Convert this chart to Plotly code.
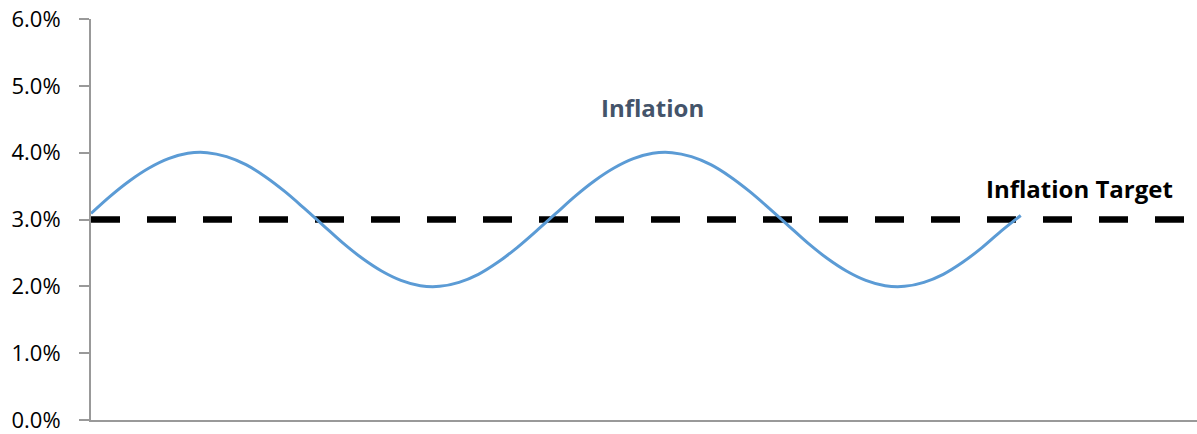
import plotly.graph_objects as go

# Inflation path (months), in percent
months = list(range(0, 49))
inflation = [3.09, 3.35, 3.58, 3.77, 3.91, 3.99, 4.00, 3.94, 3.82, 3.64, 3.42, 3.17,
             2.91, 2.65, 2.42, 2.23, 2.09, 2.01, 2.00, 2.06, 2.18, 2.36, 2.58, 2.83,
             3.09, 3.35, 3.58, 3.77, 3.91, 3.99, 4.00, 3.94, 3.82, 3.64, 3.42, 3.17,
             2.91, 2.65, 2.42, 2.23, 2.09, 2.01, 2.00, 2.06, 2.18, 2.36, 2.58, 2.83,
             3.06]

target_x = [0, 57.1]
target = [3.0, 3.0]

y_ticks = [0, 1, 2, 3, 4, 5, 6]
y_ticklabels = ["0.0%", "1.0%", "2.0%", "3.0%", "4.0%", "5.0%", "6.0%"]

fig = go.Figure()
fig.add_trace(go.Scatter(
    x=target_x, y=target, mode="lines",
    line=dict(color="#000000", width=6.5, dash="29px,27px"),
    hoverinfo="skip", showlegend=False,
))
fig.add_trace(go.Scatter(
    x=months, y=inflation, mode="lines",
    line=dict(color="#5B9BD5", width=3, shape="spline"),
    showlegend=False,
))

fig.add_annotation(x=29.0, y=4.68, xref="x", yref="y", text="<b>Inflation</b>",
                   showarrow=False, font=dict(family="Open Sans", size=24, color="#44546A"))
fig.add_annotation(x=51.05, y=3.47, xref="x", yref="y", text="<b>Inflation Target</b>",
                   showarrow=False, font=dict(family="Open Sans", size=24, color="#000000"))

fig.update_layout(
    width=1197, height=434,
    margin=dict(l=91, r=0, t=19, b=14),
    paper_bgcolor="white", plot_bgcolor="white",
    font=dict(family="Open Sans", color="#000000"),
    xaxis=dict(range=[0, 57.1], showgrid=False, zeroline=False, showticklabels=False,
               ticks="", showline=True, linecolor="#999999", linewidth=2),
    yaxis=dict(range=[0, 6], tickvals=y_ticks, ticktext=y_ticklabels, showgrid=False,
               zeroline=False, showline=True, linecolor="#999999", linewidth=2,
               ticks="outside", ticklen=10, tickcolor="#999999", tickwidth=2,
               ticklabelstandoff=14, tickfont=dict(family="Open Sans", size=22, color="#000000")),
)

fig.write_html("out.html")
